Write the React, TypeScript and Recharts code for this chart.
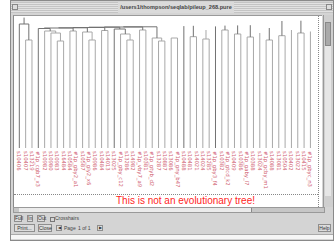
import { ScatterChart, Scatter, XAxis, YAxis } from 'recharts';

// leaf labels, left to right
const leafNames = [
  's10406', 's10407', 's13219', '#1p_cgb7_x3', 's10982', 's10980', 's10983', 's16484',
  's10584', '#1p_gby2_a1', 's10587', '#1p_gly2_x6', 's10986', 's10484', 's14013', 's13025',
  '#1p_gby_c12', 's13286', 's14982', '#1p_vby7_a9', 's10381', '#1p_gtyb_d2', 's13287', 's10887',
  's13086', '#1p_gny_b47', 's10488', 's10481', 's14021', 's14024', 's13285', '#1p_gby3_f4',
  's10382', '#1p_gtcd_k2', 's10409', 's10386', '#1p_gaby_l7', 's10388', 's13024', '#1p_gcby_m1',
  's14088', 's13081', 's10504', 's10402', 's13022', 's10415', '#1p_gbyc_n3',
];
const leafIndex = leafNames.map((_, i) => i);

// merges: ids < 100 are leaves, 100 + k is merge k
const mergeLeft = [
  1, 0, 6, 5, 4, 3, 8, 105, 11, 10, 107, 13, 110, 17, 16, 15, 112, 19, 116, 22, 21, 118, 24,
  27, 29, 124, 126, 26, 123, 32, 129, 34, 131, 36, 134, 39, 135, 133, 41, 138, 44, 141, 43, 140, 101,
];
const mergeRight = [
  2, 100, 7, 102, 103, 104, 9, 106, 12, 108, 109, 14, 111, 18, 113, 114, 115, 20, 117, 23, 119, 120, 25,
  28, 30, 125, 31, 127, 128, 33, 130, 35, 132, 37, 38, 40, 136, 137, 42, 139, 45, 46, 142, 143, 144,
];
const mergeHeight = [
  108, 124, 107, 115, 117, 119.5, 117, 120, 108, 116, 120.2, 117.5, 120.5, 108, 114, 119, 120.8, 118, 121, 107, 110, 121.2, 110,
  111.3, 109, 118, 121.6, 121.9, 122.2, 118, 122.4, 114, 122.6, 111, 115, 108, 120, 122.8, 112.3, 127, 115, 116.5, 118, 127.3, 130.4,
];

type Pt = { x: number; y: number };

function buildLinks() {
  const mx: number[] = [];
  const pos = (id: number) => (id < 100 ? id : mx[id - 100]);
  const hgt = (id: number) => (id < 100 ? 0 : mergeHeight[id - 100]);
  const links: { pts: Pt[]; h: number }[] = [];
  mergeLeft.forEach((l, k) => {
    const r = mergeRight[k];
    const h = mergeHeight[k];
    const xl = pos(l);
    const xr = pos(r);
    mx[k] = (xl + xr) / 2;
    links.push({
      h,
      pts: [
        { x: xl, y: hgt(l) },
        { x: xl, y: h },
        { x: xr, y: h },
        { x: xr, y: hgt(r) },
      ],
    });
  });
  return links;
}

const links = buildLinks();

const LeafTick = (props: any) => {
  const { x, y, payload } = props;
  return (
    <text
      transform={`translate(${x - 2},${y}) rotate(90)`}
      fontSize={5.3}
      fontFamily="DejaVu Sans"
      fill="#d0606f"
      textAnchor="start"
    >
      {leafNames[payload.value]}
    </text>
  );
};

const btn: React.CSSProperties = {
  position: 'absolute',
  height: 7,
  background: '#dcdcdc',
  border: '1px solid #8e8e8e',
  boxSizing: 'border-box',
  fontSize: 5,
  lineHeight: '5px',
  color: '#333',
  textAlign: 'center',
  fontFamily: 'Liberation Sans',
};

export default function App() {
  return (
    <div style={{ position: 'fixed', left: 0, top: 0, width: 335, height: 242, background: '#fff', overflow: 'hidden', fontFamily: 'Liberation Sans' }}>
      {/* window */}
      <div style={{ position: 'absolute', left: 10, top: 0, width: 324, height: 241, background: '#d4d4d4', border: '1px solid #8a8a8a', boxSizing: 'border-box' }} />
      {/* title bar */}
      <div style={{ position: 'absolute', left: 11, top: 2, width: 322, height: 11, background: 'repeating-linear-gradient(#c4c4c4 0px, #c4c4c4 1px, #e2e2e2 1px, #e2e2e2 2px)' }} />
      <div style={{ position: 'absolute', left: 12, top: 4, width: 6, height: 6, border: '1px solid #888', background: '#ddd', boxSizing: 'border-box' }} />
      <div style={{ position: 'absolute', left: 326, top: 4, width: 6, height: 6, border: '1px solid #888', background: '#ddd', boxSizing: 'border-box' }} />
      <div style={{ position: 'absolute', left: 118, top: 2, width: 116, height: 11, background: '#dadada', fontSize: 5.6, fontWeight: 600, lineHeight: '11px', color: '#444', textAlign: 'center' }}>
        /users1/thompson/seqlab/pileup_268.pure
      </div>
      {/* canvas */}
      <div style={{ position: 'absolute', left: 13, top: 15, width: 309, height: 192, background: '#fff', borderTop: '1px solid #9a9a9a', borderLeft: '1px solid #8a8a8a', boxSizing: 'border-box' }} />
      <div style={{ position: 'absolute', left: 318, top: 16, width: 0, height: 191, borderLeft: '1px dotted #888' }} />
      <div style={{ position: 'absolute', left: 14, top: 194, width: 304, height: 0, borderTop: '1px dotted #888' }} />
      {/* vertical scrollbar */}
      <div style={{ position: 'absolute', left: 323, top: 15, width: 10, height: 192, background: '#cfcfcf', borderLeft: '1px solid #999', boxSizing: 'border-box' }} />
      <div style={{ position: 'absolute', left: 325, top: 22, width: 6, height: 24, background: '#a9a9a9', border: '1px solid #888', boxSizing: 'border-box' }} />
      <div style={{ position: 'absolute', left: 325, top: 46, width: 6, height: 150, background: '#e6e6e6' }} />

      <div style={{ position: 'absolute', left: 13, top: 17 }}>
        <ScatterChart width={305} height={178} margin={{ top: 0, right: 0, left: 0, bottom: 0 }}>
          <XAxis
            type="number"
            dataKey="x"
            domain={[-1, 47.2]}
            ticks={leafIndex}
            interval={0}
            height={47}
            axisLine={false}
            tickLine={false}
            tickSize={0}
            tickMargin={3}
            tick={<LeafTick />}
          />
          <YAxis type="number" dataKey="y" domain={[0, 131]} hide />
          {links.map((lk, i) => (
            <Scatter
              key={i}
              data={lk.pts}
              line={{ stroke: lk.h >= 119 ? '#727272' : '#a8a8a8', strokeWidth: 1 }}
              shape={() => <g />}
              isAnimationActive={false}
            />
          ))}
        </ScatterChart>
      </div>

      <div style={{ position: 'absolute', left: 13, top: 195, width: 305, textAlign: 'center', paddingLeft: 40, boxSizing: 'border-box', fontSize: 10, lineHeight: '12px', color: '#ff1e1e', fontFamily: 'Liberation Sans' }}>
        This is not an evolutionary tree!
      </div>

      {/* horizontal scrollbar */}
      <div style={{ position: 'absolute', left: 13, top: 207, width: 312, height: 6, background: '#c6c6c6', border: '1px solid #999', boxSizing: 'border-box' }} />
      <div style={{ position: 'absolute', left: 19, top: 208, width: 232, height: 4, background: '#ebebeb', borderRight: '1px solid #888' }} />

      {/* buttons */}
      <div style={{ ...btn, left: 14, top: 215, width: 8 }}>Full</div>
      <div style={{ ...btn, left: 27, top: 215, width: 6 }}>In</div>
      <div style={{ ...btn, left: 37, top: 215, width: 8 }}>Out</div>
      <div style={{ position: 'absolute', left: 50, top: 217, width: 3, height: 3, border: '1px solid #777' }} />
      <div style={{ position: 'absolute', left: 55, top: 215, fontSize: 5, lineHeight: '7px', color: '#444' }}>Crosshairs</div>
      <div style={{ ...btn, left: 14, top: 224, width: 21, height: 8, lineHeight: '6px' }}>Print...</div>
      <div style={{ ...btn, left: 38, top: 224, width: 14, height: 8, lineHeight: '6px' }}>Close</div>
      <div style={{ ...btn, left: 56, top: 225, width: 6, height: 6, lineHeight: '4px', fontSize: 4 }}>◀</div>
      <div style={{ position: 'absolute', left: 64, top: 225, fontSize: 5, lineHeight: '6px', color: '#444' }}>Page</div>
      <div style={{ position: 'absolute', left: 78, top: 225, fontSize: 5, lineHeight: '6px', color: '#444' }}>1 of 1</div>
      <div style={{ ...btn, left: 97, top: 225, width: 6, height: 6, lineHeight: '4px', fontSize: 4 }}>▶</div>
      <div style={{ ...btn, left: 318, top: 224, width: 13, height: 8, lineHeight: '6px' }}>Help</div>
      {/* bottom strip */}
      <div style={{ position: 'absolute', left: 11, top: 234, width: 322, height: 5, background: '#f6f6f6', borderTop: '1px solid #aaa', boxSizing: 'border-box' }} />
    </div>
  );
}
